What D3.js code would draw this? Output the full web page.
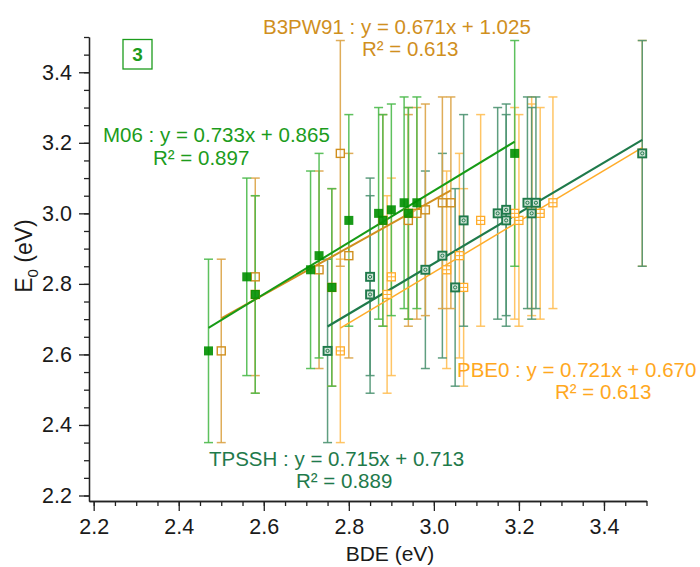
<!DOCTYPE html>
<html>
<head>
<meta charset="utf-8">
<script src="https://cdn.jsdelivr.net/npm/d3@7"></script>
<style>
  body { margin: 0; background: #fff; }
  svg { display: block; font-family: "Liberation Sans", Arial, sans-serif; }
</style>
</head>
<body>
<div id="chart"></div>
<script>
// experimental E0 (eV) and its uncertainty, one entry per compound
const e0 = [2.61, 2.82, 2.77, 2.84, 2.88, 2.79, 3.17, 2.98, 2.98, 3.00, 3.00, 3.01, 3.03, 3.03];
const e0Err = [0.26, 0.28, 0.28, 0.28, 0.29, 0.28, 0.32, 0.30, 0.30, 0.30, 0.30, 0.30, 0.30, 0.30];

// computed BDE (eV) for each functional, same compound order
const bdeM06 = [2.47, 2.56, 2.58, 2.71, 2.73, 2.76, 3.19, 2.80, 2.88, 2.87, 2.94, 2.90, 2.93, 2.96];
const bdeB3PW91 = [2.50, 2.58, 2.58, 2.73, 2.80, 2.76, 2.78, 2.88, 2.94, 2.94, 2.96, 2.98, 3.02, 3.04];
const bdeTPSSH = [2.75, 2.85, 2.85, 2.98, 3.02, 3.05, 3.49, 3.07, 3.17, 3.15, 3.23, 3.17, 3.22, 3.24];
const bdePBE0 = [2.78, 2.90, 2.89, 3.03, 3.06, 3.07, 3.49, 3.11, 3.20, 3.19, 3.25, 3.23, 3.23, 3.28];

// linear fits as printed on the figure
const fitNames = ["TPSSH", "PBE0", "B3PW91", "M06"];
const fitSlopes = [0.715, 0.721, 0.671, 0.733];
const fitIntercepts = [0.713, 0.670, 1.025, 0.865];
const fitR2 = [0.889, 0.613, 0.613, 0.897];

const xTicks = [2.2, 2.4, 2.6, 2.8, 3.0, 3.2, 3.4];
const yTicks = [2.2, 2.4, 2.6, 2.8, 3.0, 3.2, 3.4];

const panelLabel = "3";

const W = 700, H = 567;

// drawing order: PBE0 first so TPSSH covers it where they coincide
const series = [
  { name: "PBE0", x: bdePBE0, color: "#ffac2a", bar: "#ffbf55", line: 1.5, marker: "grid" },
  { name: "TPSSH", x: bdeTPSSH, color: "#1f7a4b", bar: "#4e9472", line: 2.2, marker: "cross" },
  { name: "B3PW91", x: bdeB3PW91, color: "#d08f1e", bar: "#dca447", line: 2, marker: "open" },
  { name: "M06", x: bdeM06, color: "#169b16", bar: "#4cba4c", line: 2, marker: "filled" }
];

const svg = d3.select("#chart").append("svg")
  .attr("width", W)
  .attr("height", H);

// axes sit a few px off the first tick, so the domain starts a bit below 2.2
const x = d3.scaleLinear().domain([2.189, 3.5]).range([89, 646.5]);
const y = d3.scaleLinear().domain([2.1844, 3.5]).range([501, 37]);

const minor = d3.range(0, 27).map(i => +(2.2 + i * 0.05).toFixed(2));

function styleAxis(g) {
  g.selectAll("path.domain").attr("stroke", "#222").attr("stroke-width", 1.3);
  g.selectAll(".tick line").attr("stroke", "#222").attr("stroke-width", 1.3);
  g.selectAll(".tick text")
    .attr("fill", "#1a1a1a")
    .style("font-size", "21.5px")
    .style("font-family", "'Liberation Sans', Arial, sans-serif");
}

svg.append("g")
  .attr("transform", "translate(0,501)")
  .call(d3.axisBottom(x).tickValues(minor).tickSize(5).tickSizeOuter(0).tickFormat(""))
  .call(styleAxis);

svg.append("g")
  .attr("transform", "translate(0,501)")
  .call(d3.axisBottom(x).tickValues(xTicks).tickSize(10).tickSizeOuter(0).tickPadding(8).tickFormat(d3.format(".1f")))
  .call(styleAxis);

svg.append("g")
  .attr("transform", "translate(89,0)")
  .call(d3.axisLeft(y).tickValues(minor).tickSize(5).tickSizeOuter(0).tickFormat(""))
  .call(styleAxis);

svg.append("g")
  .attr("transform", "translate(89,0)")
  .call(d3.axisLeft(y).tickValues(yTicks).tickSize(10).tickSizeOuter(0).tickPadding(7).tickFormat(d3.format(".1f")))
  .call(styleAxis);

svg.append("text")
  .attr("x", 390)
  .attr("y", 561)
  .attr("text-anchor", "middle")
  .attr("fill", "#1a1a1a")
  .style("font-size", "21px")
  .text("BDE (eV)");

const yTitle = svg.append("text")
  .attr("transform", "translate(32,256) rotate(-90)")
  .attr("text-anchor", "middle")
  .attr("fill", "#1a1a1a")
  .style("font-size", "23px");
yTitle.append("tspan").text("E");
yTitle.append("tspan").attr("dy", 6).style("font-size", "15px").text("0");
yTitle.append("tspan").attr("dy", -6).text(" (eV)");

// error bars
const barLayer = svg.append("g");
series.forEach(s => {
  const g = barLayer.append("g")
    .attr("stroke", s.bar)
    .attr("stroke-width", 1.5)
    .attr("stroke-opacity", 0.9);
  s.x.forEach((bx, i) => {
    const px = x(bx);
    const top = y(e0[i] + e0Err[i]);
    const bot = y(e0[i] - e0Err[i]);
    g.append("line").attr("x1", px).attr("x2", px).attr("y1", top).attr("y2", bot);
    g.append("line").attr("x1", px - 4.5).attr("x2", px + 4.5).attr("y1", top).attr("y2", top);
    g.append("line").attr("x1", px - 4.5).attr("x2", px + 4.5).attr("y1", bot).attr("y2", bot);
  });
});

// fit lines over each series' own BDE range
series.forEach(s => {
  const k = fitNames.indexOf(s.name);
  const [x0, x1] = d3.extent(s.x);
  svg.append("line")
    .attr("x1", x(x0)).attr("y1", y(fitSlopes[k] * x0 + fitIntercepts[k]))
    .attr("x2", x(x1)).attr("y2", y(fitSlopes[k] * x1 + fitIntercepts[k]))
    .attr("stroke", s.color)
    .attr("stroke-width", s.line);
});

// markers
const m = 4;
series.forEach(s => {
  const g = svg.append("g");
  s.x.forEach((bx, i) => {
    const px = x(bx), py = y(e0[i]);
    if (s.marker === "filled") {
      g.append("rect").attr("x", px - 4.5).attr("y", py - 4.5).attr("width", 9).attr("height", 9)
        .attr("fill", "#008f00").attr("fill-opacity", 0.9);
    } else if (s.marker === "open") {
      g.append("rect").attr("x", px - m).attr("y", py - m).attr("width", 2 * m).attr("height", 2 * m)
        .attr("fill", "#fff").attr("fill-opacity", 0.35)
        .attr("stroke", s.color).attr("stroke-width", 1.4);
    } else if (s.marker === "cross") {
      g.append("rect").attr("x", px - m).attr("y", py - m).attr("width", 2 * m).attr("height", 2 * m)
        .attr("fill", "#cfe2d6").attr("stroke", s.color).attr("stroke-width", 1.9);
      g.append("circle").attr("cx", px).attr("cy", py).attr("r", 1.6)
        .attr("fill", "none").attr("stroke", s.color).attr("stroke-width", 1);
    } else {
      g.append("rect").attr("x", px - m).attr("y", py - m).attr("width", 2 * m).attr("height", 2 * m)
        .attr("fill", "#fff").attr("stroke", s.color).attr("stroke-width", 1.3);
      g.append("line").attr("x1", px).attr("x2", px).attr("y1", py - m).attr("y2", py + m)
        .attr("stroke", s.color).attr("stroke-width", 1);
      g.append("line").attr("x1", px - m).attr("x2", px + m).attr("y1", py).attr("y2", py)
        .attr("stroke", s.color).attr("stroke-width", 1);
    }
  });
});

// equation labels
const labelPos = {
  TPSSH: { color: "#1f7a4b", x1: 209, y1: 466, x2: 296, y2: 488 },
  PBE0: { color: "#ffa81e", x1: 457, y1: 377, x2: 555, y2: 399 },
  B3PW91: { color: "#d08f1e", x1: 263, y1: 34, x2: 362, y2: 56 },
  M06: { color: "#1c9c1c", x1: 103, y1: 142, x2: 153, y2: 165 }
};

fitNames.forEach((name, k) => {
  const p = labelPos[name];
  svg.append("text")
    .attr("x", p.x1).attr("y", p.y1)
    .attr("fill", p.color)
    .style("font-size", "20.5px")
    .text(`${name} : y = ${fitSlopes[k].toFixed(3)}x + ${fitIntercepts[k].toFixed(3)}`);
  svg.append("text")
    .attr("x", p.x2).attr("y", p.y2)
    .attr("fill", p.color)
    .style("font-size", "20.5px")
    .text(`R² = ${fitR2[k].toFixed(3)}`);
});

// panel number box
svg.append("rect")
  .attr("x", 123).attr("y", 39.5)
  .attr("width", 29).attr("height", 29.5)
  .attr("fill", "none")
  .attr("stroke", "#1c9c1c")
  .attr("stroke-width", 1.3);

svg.append("text")
  .attr("x", 137.5).attr("y", 61)
  .attr("text-anchor", "middle")
  .attr("fill", "#1c9c1c")
  .style("font-size", "19px")
  .style("font-weight", "bold")
  .text(panelLabel);
</script>
</body>
</html>
